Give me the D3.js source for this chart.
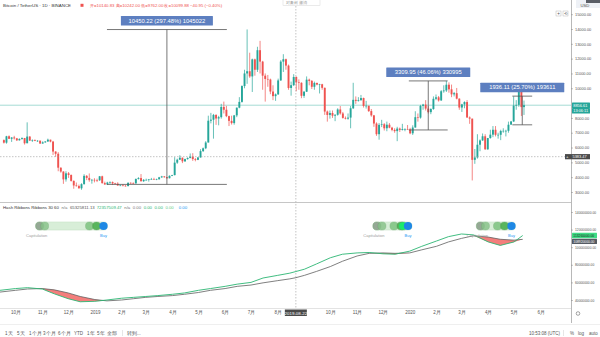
<!DOCTYPE html>
<html><head><meta charset="utf-8">
<script src="https://cdn.jsdelivr.net/npm/d3@7/dist/d3.min.js"></script>
<style>
html,body{margin:0;padding:0;background:#fff;}
svg{display:block;font-family:"Liberation Sans",Arial,sans-serif;}
</style></head><body>
<svg id="c" width="600" height="337"></svg>
<script>
// ---------- DATA ----------
const candleStart = "2018-09-16";   // first 3-day candle (BTC/USDT, Binance)
const candleStepDays = 3;
const firstOpen = 6500;
const closes = [6330,6760,6590,6680,6620,6490,6580,6640,6290,6740,
6470,6500,6450,6460,6270,6350,6410,6530,6400,5730,
5580,4640,4380,3850,4260,4150,3750,3440,3400,3250,
3530,4090,3950,3800,3820,3800,3790,4060,3600,3510,
3640,3670,3580,3560,3440,3440,3420,3400,3620,3600,
3580,3880,3940,3730,3820,3820,3850,3870,3850,3860,
3990,4050,4000,3930,4090,4140,4980,5180,5310,5070,
5220,5290,5390,5220,5170,5330,5760,5950,6340,7810,
7880,8200,7960,8050,8740,8550,8120,7800,7650,8170,
8690,9080,10150,11000,11150,10800,11950,11250,12570,11800,
10850,10630,10590,9780,9470,9590,10530,11800,11960,11530,
10020,10210,10760,10400,10370,9490,9770,10580,10500,10100,
10360,10250,10270,10030,8430,8200,8330,8150,8210,8570,
8300,8000,7950,8020,8650,9220,9150,9200,9340,8810,
8820,8460,8170,7620,6900,7530,7570,7300,7540,7340,
7190,7110,7280,7190,7250,7250,7220,6960,7350,8050,
8020,8810,8900,8630,8390,8600,9290,9390,9180,9800,
9850,10240,9930,9590,9670,9300,8700,8910,9070,8030,
7950,5170,5330,6190,6480,6760,5880,6640,6870,7200,
6860,6860,7120,7130,7130,7540,7760,8830,8880,9950,
8730,8856.61];
const highs = [6550,6790,6820,6700,6790,6650,6620,6690,6650,7700,
6770,6550,6550,6500,6480,6420,6430,6600,6530,6450,
5750,5690,4660,4400,4400,4350,4180,3780,3640,3500,
3590,4200,4140,4250,3880,3930,3900,4080,4100,3700,
3690,3720,3710,3620,3660,3490,3520,3470,3650,3650,
3650,3910,4000,4210,3870,3900,3880,3950,3960,3900,
4020,4090,4080,4010,4120,4160,5350,5250,5480,5330,
5250,5340,5600,5620,5290,5360,5890,6000,6430,8150,
8340,8270,8250,8140,8950,9100,8810,8150,8150,8200,
8700,9400,10200,11250,13970,12400,12000,12000,12800,13200,
11850,11000,10900,10650,10200,9650,10650,11900,12300,12000,
11600,10450,10950,10800,10600,10400,9800,10800,10650,10550,
10450,10380,10300,10300,10050,8500,8500,8500,8250,8650,
8800,8400,8100,8300,8800,10370,9450,9400,9550,9370,
9150,8820,8600,8200,7700,7650,7870,7650,7750,7650,
7400,7300,7400,7350,7600,7300,7520,7330,7500,8450,
8300,8880,8950,9200,8800,8650,9450,9580,9480,9880,
10200,10500,10400,10250,9750,10020,9320,8950,9120,9200,
8100,7950,5900,6900,6550,6950,6900,6650,7200,7450,
7450,7000,7200,7300,7200,7750,7800,9450,9200,9990,
10070,9170];
const lows = [6270,6260,6580,6380,6540,6440,6470,6530,6200,6290,
6440,6380,6430,6380,6250,6260,6320,6380,6350,5500,
5370,4400,4300,3550,3700,3950,3700,3220,3360,3230,
3150,3500,3800,3690,3560,3650,3670,3750,3560,3480,
3470,3550,3470,3510,3430,3400,3390,3370,3380,3550,
3550,3570,3840,3700,3680,3780,3700,3830,3830,3800,
3840,3950,3960,3900,3920,4070,4120,4900,5160,4950,
5030,5180,5280,5100,5070,5150,5320,5700,5890,6340,
7630,6600,7530,7500,7950,8300,8050,7450,7550,7540,
8050,8650,9030,10000,10300,10700,9750,10850,11100,11000,
9900,9100,10100,9600,9200,9150,9550,10500,11100,11250,
9900,9500,10150,9800,9900,9330,9350,9750,10200,9950,
9900,10200,9650,9900,8200,7750,7950,8000,7780,8150,
8220,7950,7900,7880,7300,8600,8950,9100,9150,8700,
8630,8400,8080,7400,6790,6530,7380,7150,7100,7300,
7100,7000,6430,7050,7150,7100,7200,6900,6850,7350,
7750,7950,8550,8500,8300,8250,8550,9200,9100,9150,
9700,9750,9700,9400,9450,9250,8550,8400,8650,8000,
7600,3780,4900,5250,5750,6450,5850,5850,6600,6700,
6750,6600,6500,7000,6750,7000,7600,7730,8550,8750,
8130,8200];

// Hash Ribbons (hash rate SMA, millions TH/s)
const hashDates = ["2018-09-13","2018-10-01","2018-10-15","2018-11-01","2018-11-15","2018-12-01","2018-12-15",
"2019-01-01","2019-01-15","2019-02-01","2019-02-15","2019-03-01","2019-03-15","2019-04-01","2019-04-15",
"2019-05-01","2019-05-15","2019-06-01","2019-06-15","2019-07-01","2019-07-15","2019-08-01","2019-08-15",
"2019-08-22","2019-09-01","2019-09-15","2019-10-01","2019-10-15","2019-11-01","2019-11-15","2019-12-01",
"2019-12-15","2020-01-01","2020-01-15","2020-02-01","2020-02-15","2020-03-01","2020-03-15","2020-04-01",
"2020-04-15","2020-05-01","2020-05-11"];
const hash30 = [51,53,54,52.5,47,41.5,38,38.5,40,42,43,44,45,46.5,48,51,53,55.5,58,60,65,68,70.5,
72.36,75,81,88,92,93.5,94,92.5,92,95.5,101,107,112,115,114,106,102,106,113.26];
const hash60 = [49,51,52.5,53,51.5,48,44,40.5,39,40,41.5,43,44,45,46.5,48.5,51,53,55.5,57,59.5,62,64,
65.33,68,72.5,78,84,90,93,93.5,93,93.5,97,101,106,110,113,111.5,109,108,108.92];
const capStarts = ["2018-10-29","2019-11-24","2020-03-23"];
const buyDates  = ["2019-01-11","2019-12-30","2020-04-28"];

// measurement tools: [fromDate, toDate, lowPrice, highPrice, label]
const measures = [
  ["2019-01-15","2019-06-03",3512.90,13963.12,"10450.22 (297.48%) 1045022"],
  ["2019-12-31","2020-02-14",7186.15,10496.10,"3309.95 (46.06%) 330995"],
  ["2020-04-29","2020-05-22",7533.50,9469.61,"1936.11 (25.70%) 193611"]
];
const lastPrice = 8856.61, countdown = "13:06:11";
const crossDate = "2019-08-22", crossPrice = 5383.47;

const priceTicks = [3000,4000,5000,6000,7000,8000,10000,11000,12000,13000,14000,15000];
const hashTicks = [40,60,80,100,120,140];
const monthTicks = ["2018-10-01","2018-11-01","2018-12-01","2019-01-01","2019-02-01","2019-03-01","2019-04-01",
"2019-05-01","2019-06-01","2019-07-01","2019-08-01","2019-10-01","2019-11-01","2019-12-01",
"2020-01-01","2020-02-01","2020-03-01","2020-04-01","2020-05-01","2020-06-01"];
const monthLabels = ["10月","11月","12月","2019","2月","3月","4月","5月","6月","7月","8月","10月","11月","12月",
"2020","2月","3月","4月","5月","6月"];

// ---------- DRAW ----------
const P = d3.utcParse("%Y-%m-%d");
const svg = d3.select("#c");
const R = 571, mainBot = 202, indBot = 308;

const x = d3.scaleUtc().domain([P("2018-09-13"), P("2020-07-06")]).range([0, R]);
const y = d3.scaleLinear().domain([2325, 15957]).range([mainBot, 0]);
const yh = d3.scaleLinear().domain([30.9, 151.36]).range([indBot, mainBot]);

const defs = svg.append("defs");
defs.append("clipPath").attr("id","cm").append("rect").attr("x",0).attr("y",0).attr("width",R).attr("height",mainBot);
defs.append("clipPath").attr("id","ci").append("rect").attr("x",0).attr("y",mainBot).attr("width",R).attr("height",indBot-mainBot);

// candles
const start = P(candleStart);
const candles = closes.map((c,i)=>({
  d: d3.utcHour.offset(d3.utcDay.offset(start, i*candleStepDays), 36),
  o: i===0 ? firstOpen : closes[i-1], c, h: highs[i], l: lows[i]
}));
const gm = svg.append("g").attr("clip-path","url(#cm)");

// current price line
gm.append("line").attr("x1",0).attr("x2",R).attr("y1",y(lastPrice)).attr("y2",y(lastPrice))
  .attr("stroke","#8fd3ca").attr("stroke-width",0.8);

const cg = gm.append("g");
cg.selectAll("line.w").data(candles).join("line").attr("class","w")
  .attr("x1",d=>x(d.d)).attr("x2",d=>x(d.d)).attr("y1",d=>y(d.h)).attr("y2",d=>y(d.l))
  .attr("stroke",d=>d.c>=d.o?"#26a69a":"#ef5350").attr("stroke-width",0.7);
cg.selectAll("rect").data(candles).join("rect")
  .attr("x",d=>x(d.d)-0.95).attr("width",1.9)
  .attr("y",d=>y(Math.max(d.o,d.c)))
  .attr("height",d=>Math.max(0.6, Math.abs(y(d.o)-y(d.c))))
  .attr("fill",d=>d.c>=d.o?"#26a69a":"#ef5350");

// crosshair
svg.append("line").attr("x1",0).attr("x2",R).attr("y1",y(crossPrice)).attr("y2",y(crossPrice))
  .attr("stroke","#9a9a9a").attr("stroke-width",0.6).attr("stroke-dasharray","1.5,1.5");
svg.append("line").attr("x1",x(P(crossDate))).attr("x2",x(P(crossDate))).attr("y1",0).attr("y2",indBot)
  .attr("stroke","#9a9a9a").attr("stroke-width",0.6).attr("stroke-dasharray","1.5,1.5");

// measurement tools
measures.forEach(m=>{
  const x0 = x(P(m[0])), x1 = x(P(m[1])), xm = (x0+x1)/2;
  const yl = y(m[2]), yt = y(m[3]);
  const g = gm.append("g").attr("stroke","#555").attr("stroke-width",0.8);
  g.append("line").attr("x1",x0).attr("x2",x1).attr("y1",yt).attr("y2",yt);
  g.append("line").attr("x1",x0).attr("x2",x1).attr("y1",yl).attr("y2",yl);
  g.append("line").attr("x1",xm).attr("x2",xm).attr("y1",yt).attr("y2",yl);
  const bw = 84 + (m[4].length>24?8:0);
  gm.append("rect").attr("x",xm-bw/2).attr("y",yt-13.5).attr("width",bw).attr("height",9.5)
    .attr("fill","#5d7fc0").attr("rx",0.5);
  gm.append("text").attr("x",xm).attr("y",yt-6.8).attr("text-anchor","middle")
    .attr("fill","#fff").attr("font-size",5.8).text(m[4]);
});

// ---------- indicator ----------
const hd = hashDates.map((d,i)=>({d:P(d), a:hash30[i], b:hash60[i]}));
const gi = svg.append("g").attr("clip-path","url(#ci)");
gi.append("path").datum(hd)
  .attr("d", d3.area().x(d=>x(d.d)).y0(d=>yh(d.b)).y1(d=>yh(Math.min(d.a,d.b))))
  .attr("fill","#ef5350").attr("opacity",0.75);
gi.append("path").datum(hd).attr("d", d3.line().x(d=>x(d.d)).y(d=>yh(d.b)))
  .attr("fill","none").attr("stroke","#5f5f5f").attr("stroke-width",0.8);
gi.append("path").datum(hd).attr("d", d3.line().x(d=>x(d.d)).y(d=>yh(d.a)))
  .attr("fill","none").attr("stroke","#2bb673").attr("stroke-width",0.9);

// pills
capStarts.forEach((s,i)=>{
  const xs = x(P(s)), xe = x(P(buyDates[i])), cy = 226, r = 4.1;
  gi.append("rect").attr("x",xs-r).attr("y",cy-r).attr("width",xe-xs+2*r).attr("height",2*r).attr("rx",r)
    .attr("fill","#d8eed8").attr("stroke","#b9dcb9").attr("stroke-width",0.4);
  const circ = (cx,fill,op)=>gi.append("circle").attr("cx",cx).attr("cy",cy).attr("r",r)
    .attr("fill",fill).attr("opacity",op).attr("stroke","#5e9e60").attr("stroke-width",0.3);
  circ(xs,"#95a895",1);
  circ(xs+5,"#86c288",0.8);
  circ(xe-14,"#78c07b",0.8);
  circ(xe-7,"#4caf50",0.9);
  if (i===1) circ(xe-5,"#1de96b",1);
  gi.append("circle").attr("cx",xe).attr("cy",cy).attr("r",r).attr("fill","#1e88e5");
  gi.append("text").attr("x",xs-3).attr("y",237).attr("text-anchor","middle").attr("font-size",4)
    .attr("fill","#9e9e9e").text("Capitulation");
  gi.append("text").attr("x",xe).attr("y",237).attr("text-anchor","middle").attr("font-size",4)
    .attr("fill","#2196f3").text("Buy");
});

// legend
const lg = svg.append("text").attr("x",3).attr("y",209).attr("font-size",4.3).attr("fill","#333");
[["Hash Ribbons Ribbons 30 60","#333",0],["n/a","#777",2.5],["65325811.13","#555",2.5],["72357509.47","#2bb673",2],
 ["n/a","#777",2.5],["0.00","#777",2.5],["0.00","#2bb673",2.5],["0.00","#2bb673",2.5],["0.00","#66cc88",2.5],["0.00","#2196f3",5]]
 .forEach(t=>lg.append("tspan").attr("dx",t[2]).attr("fill",t[1]).text(t[0]));

// ---------- frames ----------
svg.append("line").attr("x1",0).attr("x2",R).attr("y1",mainBot+0.5).attr("y2",mainBot+0.5).attr("stroke","#b8b8b8").attr("stroke-width",0.8);
svg.append("line").attr("x1",0).attr("x2",R).attr("y1",indBot+0.5).attr("y2",indBot+0.5).attr("stroke","#d0d0d0").attr("stroke-width",0.6);
svg.append("line").attr("x1",R+0.5).attr("x2",R+0.5).attr("y1",0).attr("y2",323).attr("stroke","#9a9a9a").attr("stroke-width",0.7);
svg.append("line").attr("x1",0).attr("x2",600).attr("y1",324.5).attr("y2",324.5).attr("stroke","#e4e4e4").attr("stroke-width",0.6);

// axes
const styleAxis = fs => g => { g.select(".domain").remove(); g.selectAll("line").attr("stroke","#888").attr("stroke-width",0.5);
  g.selectAll("text").attr("fill","#555").attr("font-size",fs).attr("font-family","Liberation Sans, Arial, sans-serif"); };
svg.append("g").attr("transform",`translate(${R},0)`)
  .call(d3.axisRight(y).tickValues(priceTicks).tickFormat(d3.format(".2f")).tickSize(2).tickPadding(2)).call(styleAxis(3.9));
svg.append("g").attr("transform",`translate(${R},0)`)
  .call(d3.axisRight(yh).tickValues(hashTicks).tickFormat(v=>d3.format(".2f")(v*1e6)).tickSize(2).tickPadding(2)).call(styleAxis(3.3));
svg.append("g").attr("transform",`translate(0,${indBot})`)
  .call(d3.axisBottom(x).tickValues(monthTicks.map(P)).tickFormat((d,i)=>monthLabels[i]).tickSize(0).tickPadding(3.2)).call(styleAxis(4.5));

// price labels
function tag(yc, text, bg, fg, w, fs){
  svg.append("rect").attr("x",R+1).attr("y",yc-2.7).attr("width",w).attr("height",5.4).attr("fill",bg).attr("rx",0.5);
  svg.append("text").attr("x",R+2.3).attr("y",yc+1.4).attr("font-size",fs).attr("fill",fg).text(text);
}
tag(y(lastPrice), d3.format(".2f")(lastPrice), "#26a69a", "#fff", 18, 3.9);
tag(y(lastPrice)+5.6, countdown, "#26a69a", "#fff", 18, 3.9);
svg.append("rect").attr("x",565).attr("y",y(crossPrice)-2.6).attr("width",25).attr("height",5.2).attr("fill","#4a4a4a");
svg.append("text").attr("x",566).attr("y",y(crossPrice)+1.6).attr("font-size",4.4).attr("fill","#fff").text("+");
svg.append("text").attr("x",572.5).attr("y",y(crossPrice)+1.4).attr("font-size",3.9).attr("fill","#fff").text(d3.format(".2f")(crossPrice));
tag(yh(hash30[hash30.length-1]), d3.format(".2f")(hash30[hash30.length-1]*1e6), "#3ddc84", "#1a1a1a", 25, 3.3);
tag(yh(hash60[hash60.length-1])+2, d3.format(".2f")(hash60[hash60.length-1]*1e6), "#555b63", "#fff", 25, 3.3);

// crosshair date tag
const cx = x(P(crossDate));
svg.append("rect").attr("x",cx-11).attr("y",309.5).attr("width",22).attr("height",6.5).attr("fill","#4a4a4a");
svg.append("text").attr("x",cx).attr("y",314.6).attr("text-anchor","middle").attr("font-size",4.4).attr("fill","#fff").text(crossDate);

// header
svg.append("text").attr("x",3).attr("y",7).attr("font-size",4.4).attr("fill","#333").text("Bitcoin / TetherUS · 1D · BINANCE");
svg.append("rect").attr("x",80.5).attr("y",3.8).attr("width",3).attr("height",3).attr("fill","#ef5350");
svg.append("text").attr("x",90).attr("y",7).attr("font-size",4.3).attr("fill","#ef5350")
  .text("开=10140.83  高=10242.00  低=9762.00  收=10099.88  −40.95 (−0.40%)");
svg.append("rect").attr("x",283).attr("y",-1).attr("width",37).attr("height",6.5).attr("fill","#fff").attr("stroke","#d6d6d6").attr("stroke-width",0.5);
svg.append("text").attr("x",286).attr("y",4).attr("font-size",3.8).attr("fill","#999").text("对象树  撤消");

// top right
svg.append("rect").attr("x",576).attr("y",0).attr("width",24).attr("height",8).attr("fill","#eef1f6");
svg.append("rect").attr("x",586).attr("y",0).attr("width",14).attr("height",3).attr("fill","#5a5e66");
svg.append("text").attr("x",580.5).attr("y",7).attr("font-size",4.2).attr("fill","#555").text("USD");
svg.append("rect").attr("x",556).attr("y",11).attr("width",5).attr("height",5).attr("fill","#fff").attr("stroke","#aaa").attr("stroke-width",0.4);
svg.append("text").attr("x",558.5).attr("y",15).attr("text-anchor","middle").attr("font-size",4.6).attr("fill","#555").text("+");
svg.append("rect").attr("x",563).attr("y",11).attr("width",5).attr("height",5).attr("fill","#fff").attr("stroke","#aaa").attr("stroke-width",0.4);
svg.append("text").attr("x",565.5).attr("y",15).attr("text-anchor","middle").attr("font-size",4).attr("fill","#555").text("⟲");
svg.append("circle").attr("cx",578).attr("cy",313.5).attr("r",1.8).attr("fill","none").attr("stroke","#666").attr("stroke-width",0.6);

// bottom toolbar
const tb = [["1天",5],["5天",17],["1个月",29],["3个月",43],["6个月",58],["YTD",74],["1年",87],["5年",97],["全部",107],["转到...",127]];
tb.forEach(t=>svg.append("text").attr("x",t[1]).attr("y",334.5).attr("font-size",4.5).attr("fill","#555").text(t[0]));
svg.append("line").attr("x1",122.5).attr("x2",122.5).attr("y1",330).attr("y2",336).attr("stroke","#ccc").attr("stroke-width",0.5);
svg.append("text").attr("x",529).attr("y",334.5).attr("font-size",4.5).attr("fill","#555").text("10:53:08 (UTC)");
svg.append("line").attr("x1",563.5).attr("x2",563.5).attr("y1",330).attr("y2",336).attr("stroke","#ccc").attr("stroke-width",0.5);
[["%",570],["log",578],["auto",589]].forEach(t=>svg.append("text").attr("x",t[1]).attr("y",334.5).attr("font-size",4.5).attr("fill","#555").text(t[0]));
</script>
</body></html>
